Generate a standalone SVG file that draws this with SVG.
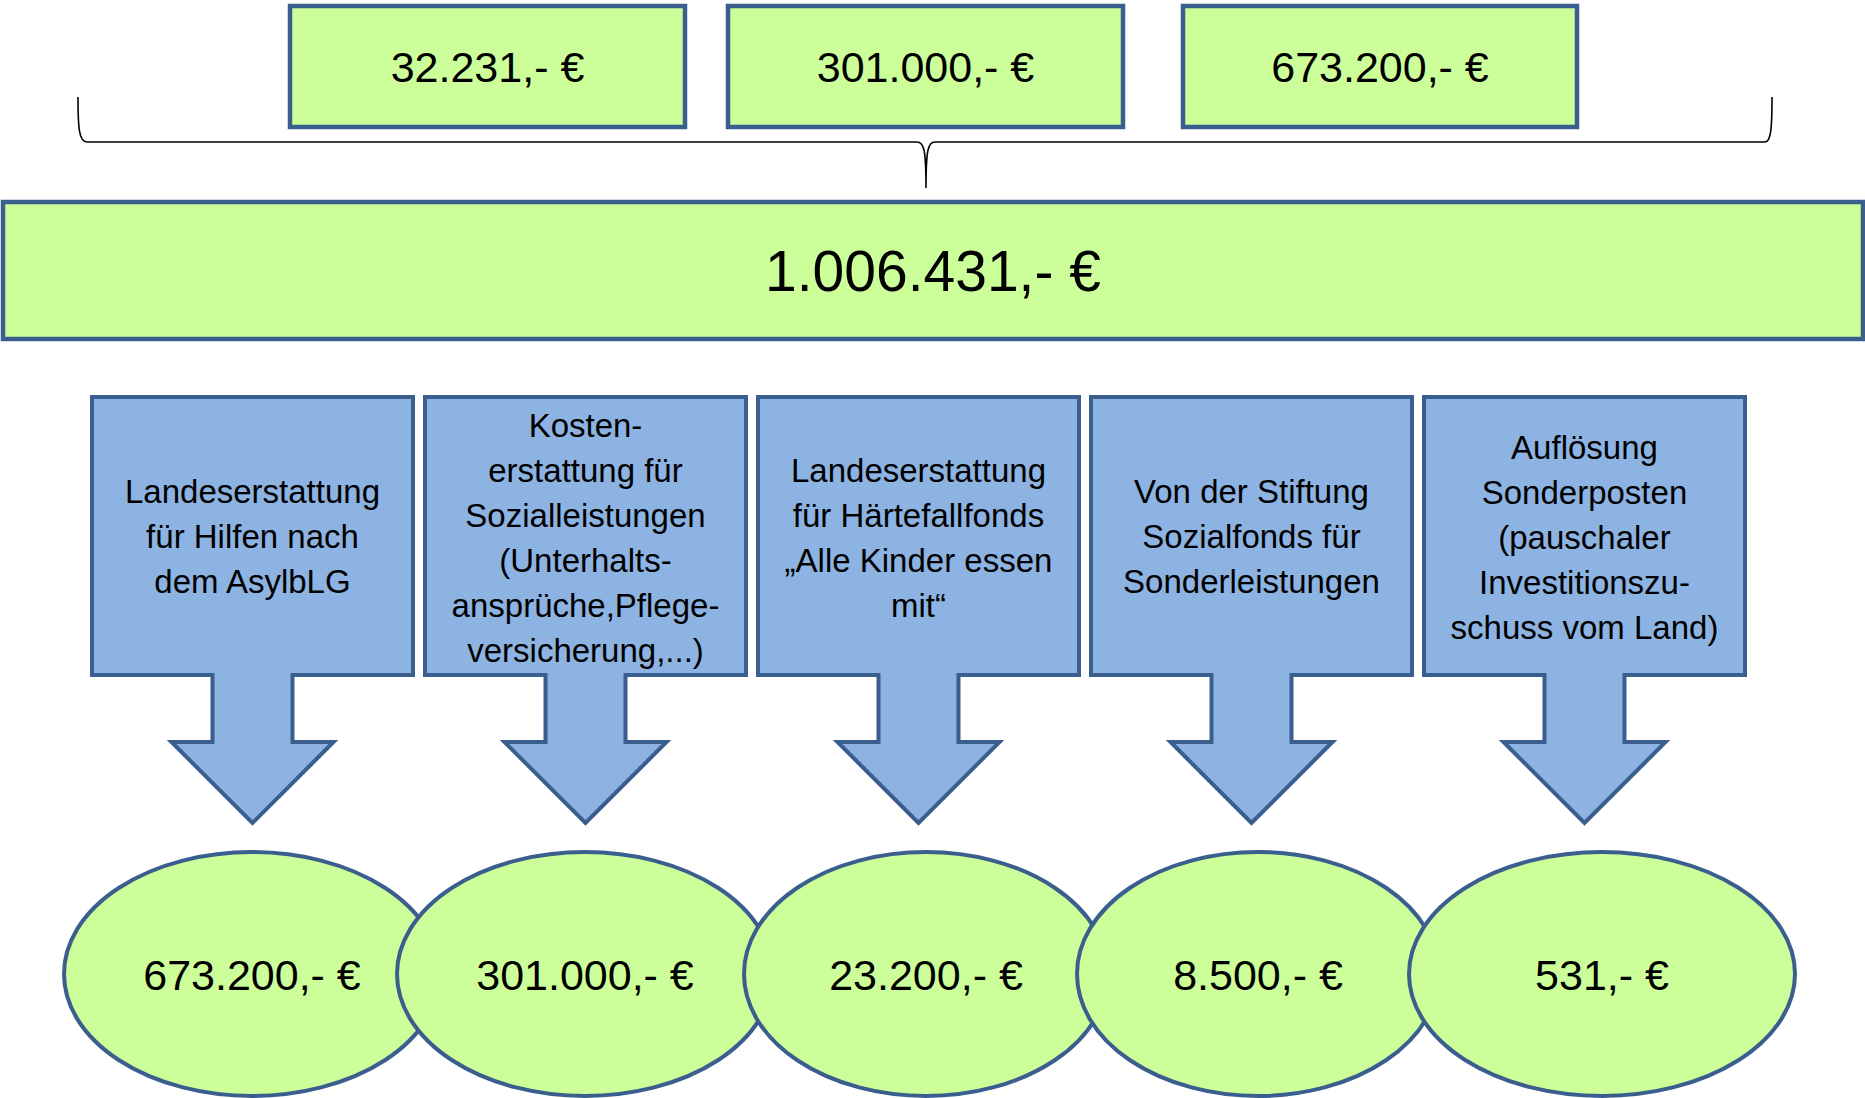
<svg xmlns="http://www.w3.org/2000/svg" width="1865" height="1098" viewBox="0 0 1865 1098">
<style>
.box{fill:#CCFF99;stroke:#3A5F8E;stroke-width:4.5}
.ell{fill:#CCFF99;stroke:#3A5F8E;stroke-width:4}
.call{fill:#8DB3E2;stroke:#3A5F8E;stroke-width:4;stroke-linejoin:miter}
.brace{fill:none;stroke:#000;stroke-width:1.6}
text{font-family:"Liberation Sans",Arial,sans-serif;fill:#000;text-anchor:middle}
.num{font-size:43px}
.big{font-size:57px}
.lbl{font-size:33px}
</style>
<g id="top1"><rect class="box" x="290" y="6" width="395" height="121"/><text class="num" x="487.5" y="82">32.231,- €</text></g>
<g id="top2"><rect class="box" x="728" y="6" width="395" height="121"/><text class="num" x="925.5" y="82">301.000,- €</text></g>
<g id="top3"><rect class="box" x="1183" y="6" width="394" height="121"/><text class="num" x="1380" y="82">673.200,- €</text></g>
<g id="connectors"><path class="brace" d="M78,97 C78,128 79,142 87,142 L917,142 C924,142 926,150 926,188 C926,150 928,142 935,142 L1765,142 C1771,142 1772,128 1772,97"/></g>
<g id="total"><rect class="box" x="3" y="202" width="1860" height="137"/><text class="big" x="933" y="291">1.006.431,- €</text></g>
<g id="c1"><path class="call" d="M92,397 H413 V675 H292.5 V742 H333.5 L252.5,823 L171.5,742 H212.5 V675 H92 Z"/>
<text class="lbl" x="252.5"><tspan x="252.5" y="503">Landeserstattung</tspan><tspan x="252.5" y="548">für Hilfen nach</tspan><tspan x="252.5" y="593">dem AsylbLG</tspan></text></g>
<g id="c2"><path class="call" d="M425,397 H746 V675 H625.5 V742 H666.5 L585.5,823 L504.5,742 H545.5 V675 H425 Z"/>
<text class="lbl"><tspan x="585.5" y="436.5">Kosten-</tspan><tspan x="585.5" y="481.5">erstattung für</tspan><tspan x="585.5" y="526.5">Sozialleistungen</tspan><tspan x="585.5" y="571.5">(Unterhalts-</tspan><tspan x="585.5" y="616.5">ansprüche,Pflege-</tspan><tspan x="585.5" y="661.5">versicherung,...)</tspan></text></g>
<g id="c3"><path class="call" d="M758,397 H1079 V675 H958.5 V742 H999.5 L918.5,823 L837.5,742 H878.5 V675 H758 Z"/>
<text class="lbl"><tspan x="918.5" y="481.5">Landeserstattung</tspan><tspan x="918.5" y="526.5">für Härtefallfonds</tspan><tspan x="918.5" y="571.5">„Alle Kinder essen</tspan><tspan x="918.5" y="616.5">mit“</tspan></text></g>
<g id="c4"><path class="call" d="M1091,397 H1412 V675 H1291.5 V742 H1332.5 L1251.5,823 L1170.5,742 H1211.5 V675 H1091 Z"/>
<text class="lbl"><tspan x="1251.5" y="503">Von der Stiftung</tspan><tspan x="1251.5" y="548">Sozialfonds für</tspan><tspan x="1251.5" y="593">Sonderleistungen</tspan></text></g>
<g id="c5"><path class="call" d="M1424,397 H1745 V675 H1624.5 V742 H1665.5 L1584.5,823 L1503.5,742 H1544.5 V675 H1424 Z"/>
<text class="lbl"><tspan x="1584.5" y="459">Auflösung</tspan><tspan x="1584.5" y="504">Sonderposten</tspan><tspan x="1584.5" y="549">(pauschaler</tspan><tspan x="1584.5" y="594">Investitionszu-</tspan><tspan x="1584.5" y="639">schuss vom Land)</tspan></text></g>
<g id="e1"><ellipse class="ell" cx="252" cy="974" rx="188" ry="122"/><text class="num" x="252" y="990">673.200,- €</text></g>
<g id="e2"><ellipse class="ell" cx="585" cy="974" rx="188" ry="122"/><text class="num" x="585" y="990">301.000,- €</text></g>
<g id="e3"><ellipse class="ell" cx="926" cy="974" rx="182" ry="122"/><text class="num" x="926" y="990">23.200,- €</text></g>
<g id="e4"><ellipse class="ell" cx="1258" cy="974" rx="181" ry="122"/><text class="num" x="1258" y="990">8.500,- €</text></g>
<g id="e5"><ellipse class="ell" cx="1602" cy="974" rx="193" ry="122"/><text class="num" x="1602" y="990">531,- €</text></g>
</svg>
